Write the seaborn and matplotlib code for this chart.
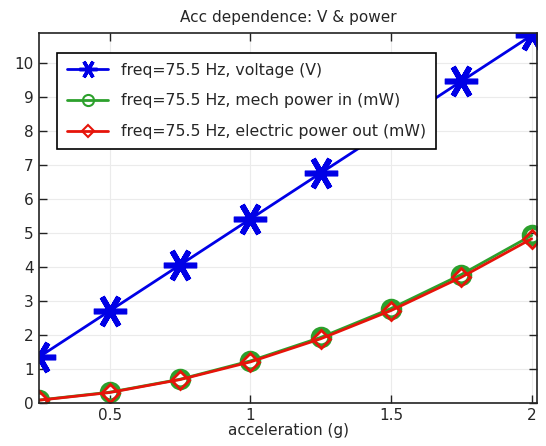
import matplotlib
matplotlib.use("Agg")
import matplotlib.pyplot as plt
import pandas as pd
import seaborn as sns

sns.set_theme(style="whitegrid")
plt.rcParams["font.family"] = ["DejaVu Sans"]

# data
accel = [0.25, 0.5, 0.75, 1.0, 1.25, 1.5, 1.75, 2.0]
voltage = [1.35, 2.70, 4.05, 5.40, 6.75, 8.10, 9.45, 10.80]
mech_power = [0.08, 0.31, 0.69, 1.23, 1.92, 2.77, 3.77, 4.92]
elec_power = [0.075, 0.30, 0.68, 1.20, 1.88, 2.71, 3.69, 4.82]

labels = [
    "freq=75.5 Hz, voltage (V)",
    "freq=75.5 Hz, mech power in (mW)",
    "freq=75.5 Hz, electric power out (mW)",
]

df = pd.DataFrame({"acc": accel, "v": voltage, "pm": mech_power, "pe": elec_power})

fig, ax = plt.subplots(figsize=(5.46, 4.46), dpi=100)

sns.lineplot(data=df, x="acc", y="v", ax=ax, color="#0000e6", lw=2,
             marker=(6, 2, 90), markersize=24, markeredgewidth=4,
             markeredgecolor="#0000e6", label=labels[0])
sns.lineplot(data=df, x="acc", y="pm", ax=ax, color="#2ca02c", lw=2,
             marker="o", markersize=12, markerfacecolor="none",
             markeredgewidth=3.5, markeredgecolor="#2ca02c", label=labels[1])
sns.lineplot(data=df, x="acc", y="pe", ax=ax, color="#e6140a", lw=2,
             marker="D", markersize=9, markerfacecolor="none",
             markeredgewidth=2, markeredgecolor="#e6140a", label=labels[2])

ax.set_xlim(0.25, 2.019)
ax.set_ylim(0, 10.87)
ax.set_xticks([0.5, 1, 1.5, 2])
ax.set_xticklabels(["0.5", "1", "1.5", "2"])
ax.set_yticks(range(0, 11))
ax.set_xlabel("acceleration (g)", fontsize=11, labelpad=0)
ax.set_ylabel("")
ax.set_title("Acc dependence: V & power", fontsize=11, pad=8)

ax.grid(True, color="#ebebeb", lw=0.8)
for s in ax.spines.values():
    s.set_color("#222222")
    s.set_linewidth(1.2)
ax.tick_params(direction="in", length=6, width=1, color="#222222",
               top=True, right=True, bottom=True, left=True,
               labelsize=11, pad=4)

leg = ax.legend(loc="upper left", bbox_to_anchor=(0.036, 0.947),
                borderaxespad=0, fontsize=11.3,
                frameon=True, fancybox=False, framealpha=1,
                edgecolor="black", handlelength=2.6, borderpad=0.65,
                labelspacing=1.0)
leg.get_frame().set_linewidth(1.2)
# smaller markers in the legend than on the plot
for h, (ms, mew) in zip(leg.legend_handles, [(13, 2.5), (8, 1.5), (6, 1.5)]):
    h.set_linewidth(2)
    h.set_markersize(ms)
    h.set_markeredgewidth(mew)

plt.subplots_adjust(left=0.072, right=0.9835, top=0.926, bottom=0.097)
plt.savefig("out.png", dpi=100)
